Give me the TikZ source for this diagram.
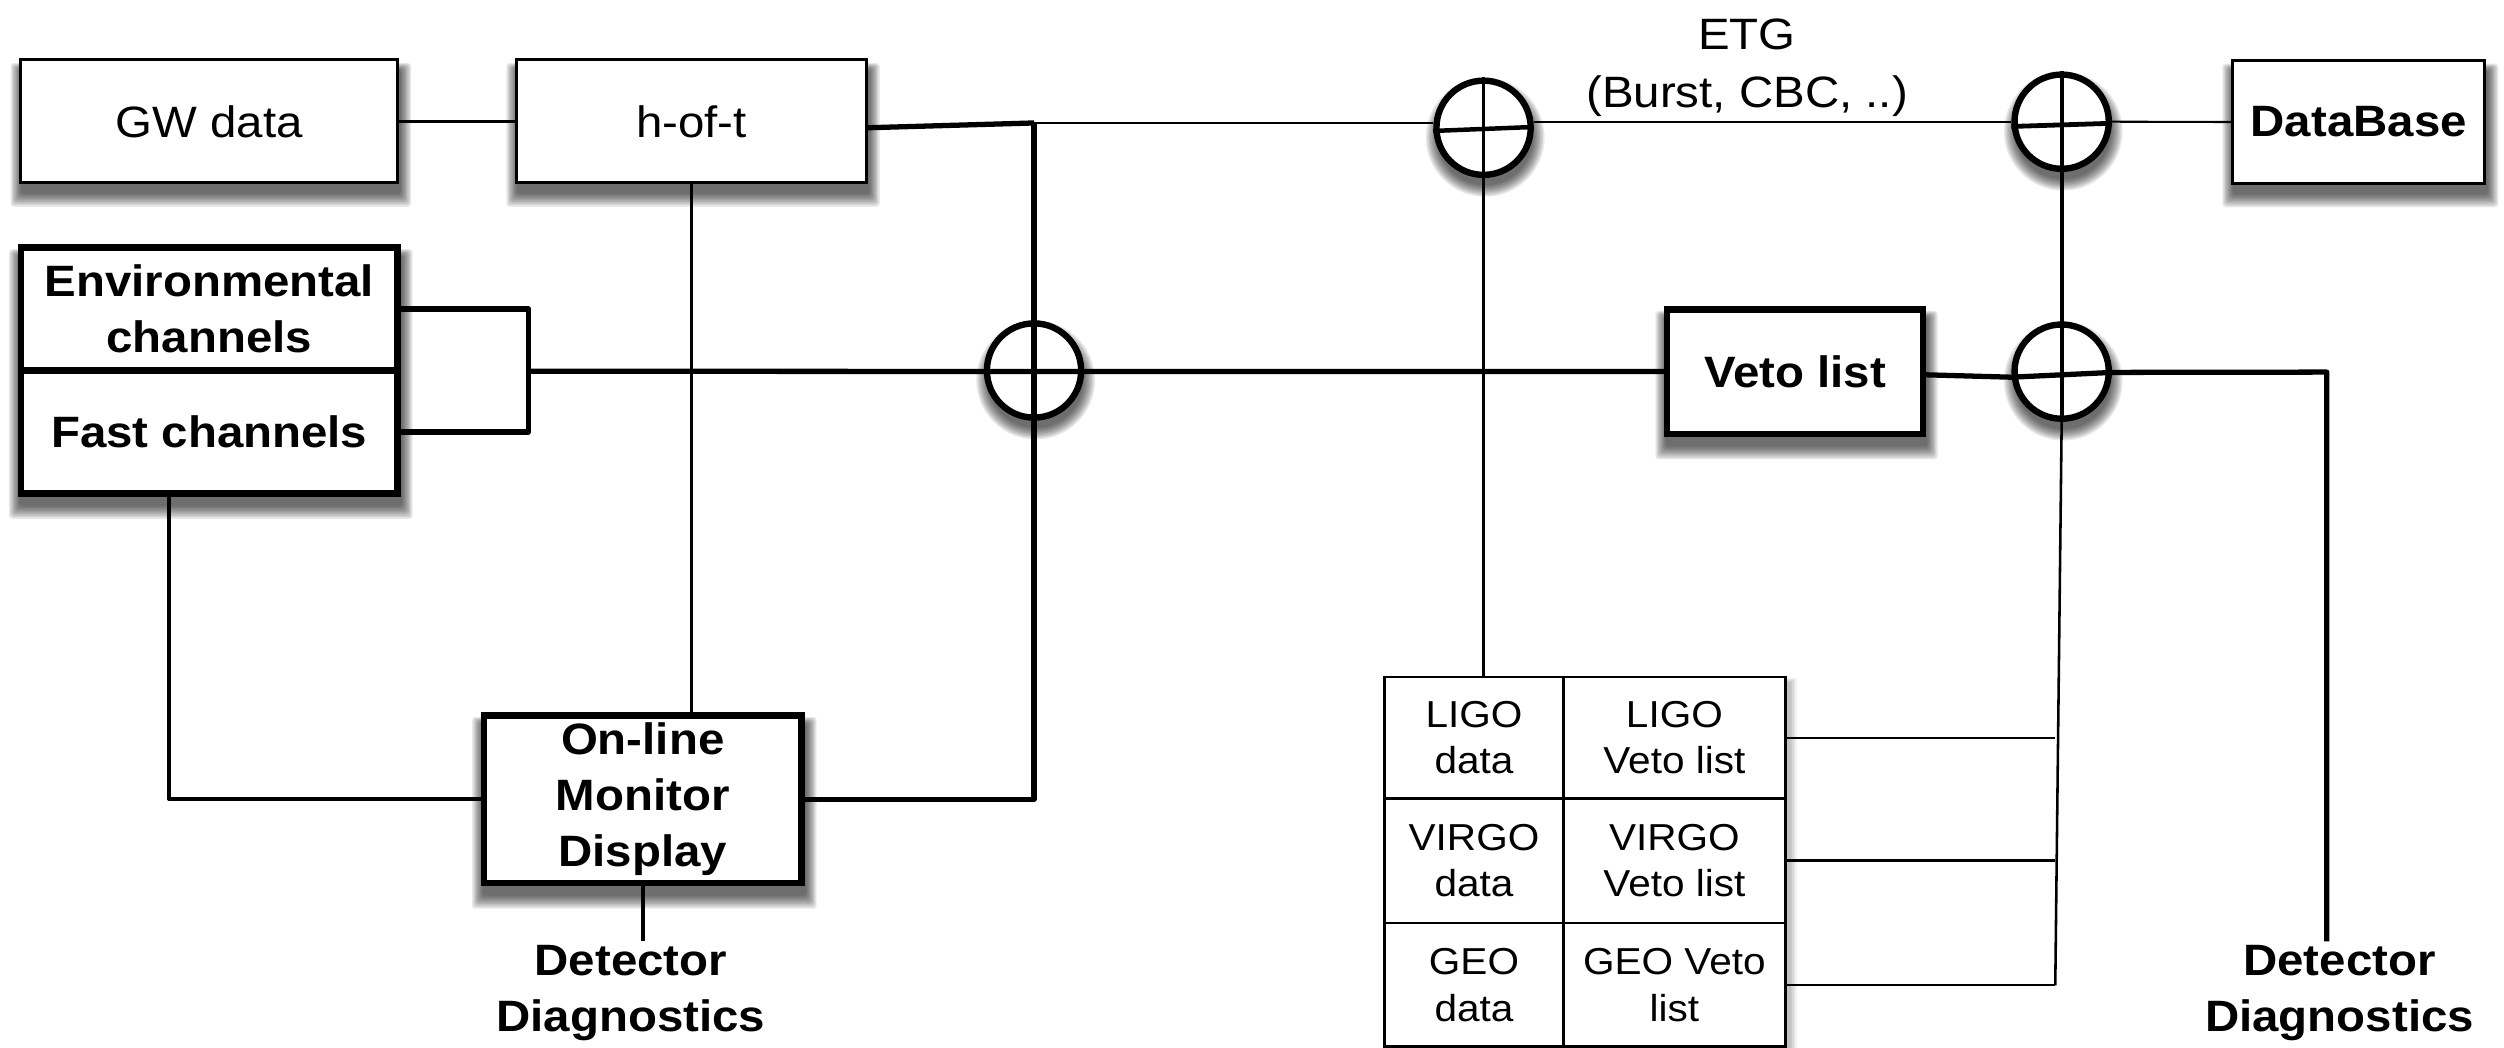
\documentclass[tikz,border=0pt]{standalone}
\usepackage{fontspec}
\setmainfont{Liberation Sans}[FakeStretch=1.08]
\usetikzlibrary{calc}
\pgfdeclarelayer{bglayer}
\pgfdeclarelayer{shdlayer}
\pgfsetlayers{bglayer,shdlayer,main}
\newcommand{\fmain}{\fontsize{27.5}{35}\selectfont}
\newcommand{\fetg}{\fontsize{27.5}{36}\selectfont}
\newcommand{\ftab}{\fontsize{23.5}{29}\selectfont}
% layered soft shadow under a rectangle given by its south-west and north-east corners
\newcommand{\dropshd}[2]{%
  \begin{pgfonlayer}{shdlayer}
    \foreach \s in {0,...,8}{%
      \fill[black,opacity=0.085,rounded corners=2pt]
        ($(#1)+({1-0.8*\s},{6+\s})$) rectangle ($(#2)+({1+0.8*\s},{7-0.5*\s})$);
    }
  \end{pgfonlayer}}
% layered soft shadow under a circular node
\newcommand{\circshd}[1]{%
  \begin{pgfonlayer}{shdlayer}
    \foreach \s in {0,...,8}{%
      \fill[black,opacity=0.085] ($(#1.center)+(1,6)$) circle ({30+0.9*\s});
    }
  \end{pgfonlayer}}
\begin{document}
\begin{tikzpicture}[x=1pt,y=-1pt,
  box/.style={draw,fill=white,line width=2pt,inner sep=0pt,align=center,font=\fmain},
  hbox/.style={box,line width=4pt,font=\fmain\bfseries},
  sumnode/.style={circle,draw,fill=white,line width=4pt,minimum size=59pt,inner sep=0pt},
  cell/.style={draw,line width=1.7pt,inner sep=0pt,align=center,font=\ftab},
  lab/.style={align=center,font=\fmain\bfseries,inner sep=2pt},
  lthin/.style={line width=1.3pt},
  lfine/.style={line width=1.6pt},
  lmed/.style={line width=2.3pt},
  lthk/.style={line width=3.3pt}
]
\useasboundingbox (0,0) rectangle (1568,656);
\begin{pgfonlayer}{bglayer}
\fill[white] (0,0) rectangle (1568,656);
\end{pgfonlayer}

% boxes
\node[box,minimum width=236pt,minimum height=77pt] (gw) at (131,76) {GW data};
\node[box,minimum width=219pt,minimum height=77pt] (hoft) at (433,76) {h-of-t};
\node[hbox,minimum width=236pt,minimum height=77pt] (env) at (131,193.5) {Environmental\\channels};
\node[hbox,minimum width=236pt,minimum height=77pt] (fast) at (131,270.5) {Fast channels};
\node[hbox,minimum width=199pt,minimum height=105pt] (mon) at (402.5,500.5) {On-line\\Monitor\\Display};
\node[hbox,minimum width=160pt,minimum height=78pt] (veto) at (1124,232.7) {Veto list};
\node[box,font=\fmain\bfseries,minimum width=158pt,minimum height=77pt] (db) at (1477,76.4) {DataBase};

% summing junctions
\node[sumnode] (c1) at (929,80) {};
\node[sumnode] (c2) at (1291,76.2) {};
\node[sumnode] (c3) at (1291,232.7) {};
\node[sumnode] (c4) at (647.5,232) {};

% table
\node[fill=white,minimum width=251pt,minimum height=231.5pt,inner sep=0pt] (tab) at (992.5,539.75) {};
\node[cell,minimum width=112pt,minimum height=76pt] (t11) at (923,462) {LIGO\\data};
\node[cell,minimum width=139pt,minimum height=76pt] (t12) at (1048.5,462) {LIGO\\Veto list};
\node[cell,minimum width=112pt,minimum height=78pt] (t21) at (923,539) {VIRGO\\data};
\node[cell,minimum width=139pt,minimum height=78pt] (t22) at (1048.5,539) {VIRGO\\Veto list};
\node[cell,minimum width=112pt,minimum height=77.5pt] (t31) at (923,616.75) {GEO\\data};
\node[cell,minimum width=139pt,minimum height=77.5pt] (t32) at (1048.5,616.75) {GEO Veto\\list};

% shadows
\dropshd{gw.south west}{gw.north east}
\dropshd{hoft.south west}{hoft.north east}
\dropshd{fast.south west}{env.north east}
\dropshd{mon.south west}{mon.north east}
\dropshd{veto.south west}{veto.north east}
\dropshd{db.south west}{db.north east}
\circshd{c1}\circshd{c2}\circshd{c3}\circshd{c4}
\begin{pgfonlayer}{shdlayer}
  \foreach \s in {0,...,4}{%
    \fill[black,opacity=0.05] ($(tab.south west)+({3-\s},{2+\s})$) rectangle ($(tab.north east)+({3+\s},{3-0.5*\s})$);
  }
\end{pgfonlayer}

% labels
\node[align=center,font=\fetg,inner sep=2pt] (etg) at (1094,42.3) {ETG\\(Burst, CBC, ..)};
\node[lab] (ddl) at (395,621.6) {Detector\\Diagnostics};
\node[lab] (ddr) at (1465,621.6) {Detector\\Diagnostics};

% helper coordinates
\coordinate (j1) at (647.5,77);
\coordinate (brx) at (331,232.5);
\coordinate (m1) at (106,500.5);
\coordinate (ddc) at (1457,233);
\coordinate (vb) at (1287,617);

% connectors
\draw[line width=2pt] (gw.east) -- (hoft.west);
\draw[lthk] ($(hoft.east)+(0,4)$) -- (j1);
\draw[lthin] (j1) -- (c1.west |- j1);
\draw[line width=2.8pt] ($(c1.west)+(0,2)$) -- ($(c1.east)+(0,-0.5)$);
\draw[lthin] (c1.east |- c2.west) -- (c2.west);
\draw[lfine] (c1.north) -- (c1.north |- tab.north);
\draw[line width=3pt] ($(c2.west)+(0,3)$) -- ($(c2.east)+(0,1)$);
\draw[lthin] (c2.east) -- (db.west);
\draw[lmed] (c2.north) -- (c3.south);
\draw[lfine] (c3.south) -- (vb);
\draw[lfine] (t12.east) -- (t12.east -| vb);
\draw[lfine] (t22.east) -- (t22.east -| vb);
\draw[lfine] (t32.east) -- (t32.east -| vb);
\draw[lthk,line join=round] ($(veto.east)+(0,2)$) -- ($(c3.west)+(0,3.5)$) -- ($(c3.east)+(0,0.5)$) -- (ddc) -- (ddc |- ddr.north);
\draw[lthk,line join=round] (env.east) -- (env.east -| brx) -- (fast.east -| brx) -- (fast.east);
\draw[lthk] (brx) -- (veto.west);
\draw[lthk,line join=round] (j1) -- (j1 |- mon.east) -- (mon.east);
\draw[lmed] (hoft.south) -- (hoft.south |- mon.north);
\draw[lmed,line join=round] (fast.south -| m1) -- (m1) -- (mon.west);
\draw[lmed] (mon.south) -- (mon.south |- ddl.north);
\end{tikzpicture}
\end{document}
